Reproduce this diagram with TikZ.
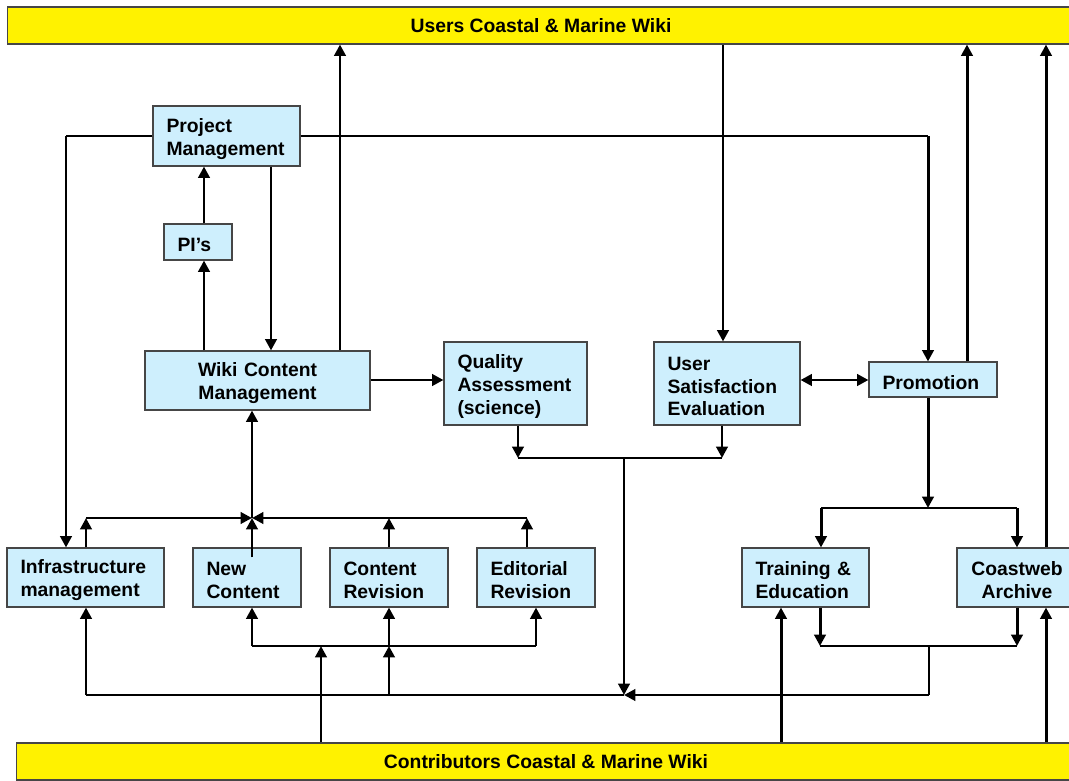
\documentclass[tikz,border=0pt]{standalone}
\usepackage{fontspec}
\setmainfont{Liberation Sans}
\usetikzlibrary{arrows.meta}
\definecolor{boxblue}{RGB}{206,239,253}
\definecolor{edge}{RGB}{70,70,70}
\tikzstyle{box}=[draw=edge,fill=boxblue,line width=0.6pt,inner xsep=0.27cm,inner ysep=0pt,align=left,font=\bfseries\fontsize{11}{13}\selectfont,execute at begin node={\rule{0pt}{11pt}}]
\tikzstyle{bar}=[draw=edge,fill=yellow,line width=0.6pt,inner sep=0pt,font=\bfseries\fontsize{11}{13}\selectfont]
\tikzstyle{flow}=[-{Triangle[length=6.5pt,width=6.5pt]},line width=1.7pt]
\tikzstyle{both}=[{Triangle[length=6.5pt,width=6.5pt]}-{Triangle[length=6.5pt,width=6.5pt]},line width=1.7pt]
\tikzstyle{bus}=[line width=1.7pt]
\tikzstyle{wire}=[line width=0.7pt]

\begin{document}
\begin{tikzpicture}[x=0.02cm,y=-0.02cm]
\useasboundingbox (0,0) rectangle (1069,781);
\clip (0,0) rectangle (1069,781);
\node[bar, minimum width=21.36cm, minimum height=0.74cm] (Users) at (541,25.5) {Users Coastal \& Marine Wiki};
\node[bar, minimum width=21.2cm, minimum height=0.74cm] (Contrib) at (546,761.5) {Contributors Coastal \& Marine Wiki};
\node[box, minimum width=2.94cm, text width=2.4cm, minimum height=1.2cm] (PM) at (226.5,136) {Project\\Management};
\node[box, minimum width=1.36cm, text width=0.82cm, minimum height=0.72cm] (PIs) at (198,242) {PI’s};
\node[box, align=center, minimum width=4.5cm, text width=3.96cm, minimum height=1.18cm] (WCM) at (257.5,380.5) {Wiki Content\\Management};
\node[box, minimum width=2.86cm, text width=2.32cm, minimum height=1.66cm] (QA) at (515.5,383.5) {Quality\\Assessment\\(science)};
\node[box, minimum width=2.92cm, text width=2.38cm, minimum height=1.66cm] (USE) at (727,383.5) {User\\Satisfaction\\Evaluation};
\node[box, minimum width=2.56cm, text width=2.02cm, minimum height=0.7cm] (Promo) at (933,379.5) {Promotion};
\node[box, minimum width=3.14cm, text width=2.6cm, minimum height=1.18cm] (Infra) at (85.5,577.5) {Infrastructure\\management};
\node[box, minimum width=2.16cm, text width=1.62cm, minimum height=1.18cm] (NewC) at (247,577.5) {New\\Content};
\node[box, minimum width=2.36cm, text width=1.82cm, minimum height=1.18cm] (CRev) at (389,577.5) {Content\\Revision};
\node[box, minimum width=2.36cm, text width=1.82cm, minimum height=1.18cm] (ERev) at (536,577.5) {Editorial\\Revision};
\node[box, minimum width=2.54cm, text width=2.0cm, minimum height=1.18cm] (Train) at (805.5,577.5) {Training \&\\Education};
\node[box, align=center, minimum width=2.4cm, text width=1.86cm, minimum height=1.18cm] (Arch) at (1017,577.5) {Coastweb\\Archive};
\coordinate (X0) at (340,0);
\coordinate (X1) at (271,0);
\coordinate (X2) at (204,0);
\coordinate (X3) at (723,0);
\coordinate (X4) at (967,0);
\coordinate (X5) at (1046,0);
\coordinate (X6) at (781,0);
\coordinate (Y0) at (0,380);
\coordinate (PL) at (66,136);
\coordinate (PR) at (928,136);
\coordinate (QJ) at (518,458);
\coordinate (UJ) at (722,458);
\coordinate (MJ) at (624,458);
\coordinate (MB) at (624,695);
\coordinate (PJ) at (928,508);
\coordinate (TJ) at (821,508);
\coordinate (AJ) at (1017,508);
\coordinate (TK) at (820,646);
\coordinate (AK) at (1017,646);
\coordinate (CK) at (929,646);
\coordinate (CB) at (929,695);
\coordinate (IB) at (86,695);
\coordinate (RB) at (389,695);
\coordinate (RM) at (389,646);
\coordinate (NM) at (252,646);
\coordinate (EM) at (536,646);
\coordinate (SM) at (321,646);
\coordinate (IT) at (86,518);
\coordinate (NT) at (252,518);
\coordinate (RT) at (389,518);
\coordinate (ET) at (527,518);
\draw[flow] (WCM.north -| X0) -- (Users.south -| X0);
\draw[flow] (PM.south -| X1) -- (WCM.north -| X1);
\draw[flow] (WCM.north -| X2) -- (PIs.south -| X2);
\draw[flow] (PIs.north -| X2) -- (PM.south -| X2);
\draw[wire] (PM.west |- PL) -- (PL);
\draw[flow] (PL) -- (Infra.north -| PL);
\draw[wire] (PM.east |- PR) -- (PR);
\draw[flow] (PR) -- (Promo.north -| PR);
\draw[flow] (Users.south -| X3) -- (USE.north -| X3);
\draw[flow] (Promo.north -| X4) -- (Users.south -| X4);
\draw[flow] (Arch.north -| X5) -- (Users.south -| X5);
\draw[flow] (WCM.east |- Y0) -- (QA.west |- Y0);
\draw[both] (USE.east |- Y0) -- (Promo.west |- Y0);
\draw[flow] (QA.south -| QJ) -- (QJ);
\draw[flow] (USE.south -| UJ) -- (UJ);
\draw[wire] (QJ) -- (UJ);
\draw[flow] (MJ) -- (MB);
\draw[flow] (Promo.south -| PJ) -- (PJ);
\draw[bus] (TJ) -- (AJ);
\draw[flow] (TJ) -- (Train.north -| TJ);
\draw[flow] (AJ) -- (Arch.north -| AJ);
\draw[flow] (Train.south -| TK) -- (TK);
\draw[flow] (Arch.south -| AK) -- (AK);
\draw[wire] (TK) -- (AK);
\draw[wire] (CK) -- (CB);
\draw[flow] (CB) -- (MB);
\draw[flow] (Contrib.north -| X6) -- (Train.south -| X6);
\draw[flow] (Contrib.north -| X5) -- (Arch.south -| X5);
\draw[wire] (IB) -- (MB);
\draw[flow] (IB) -- (Infra.south -| IB);
\draw[flow] (RB) -- (RM);
\draw[flow] (RM) -- (CRev.south -| RM);
\draw[wire] (NM) -- (EM);
\draw[flow] (NM) -- (NewC.south -| NM);
\draw[flow] (EM) -- (ERev.south -| EM);
\draw[flow] (Contrib.north -| SM) -- (SM);
\draw[flow] (Infra.north -| IT) -- (IT);
\draw[flow] (CRev.north -| RT) -- (RT);
\draw[flow] (ERev.north -| ET) -- (ET);
\draw[flow] (IT) -- (NT);
\draw[flow] (ET) -- (NT);
\draw[flow] (NewC.north -| NT) ++(0,10) -- (NT);
\draw[flow] (NT) -- (WCM.south -| NT);
\end{tikzpicture}
\end{document}
